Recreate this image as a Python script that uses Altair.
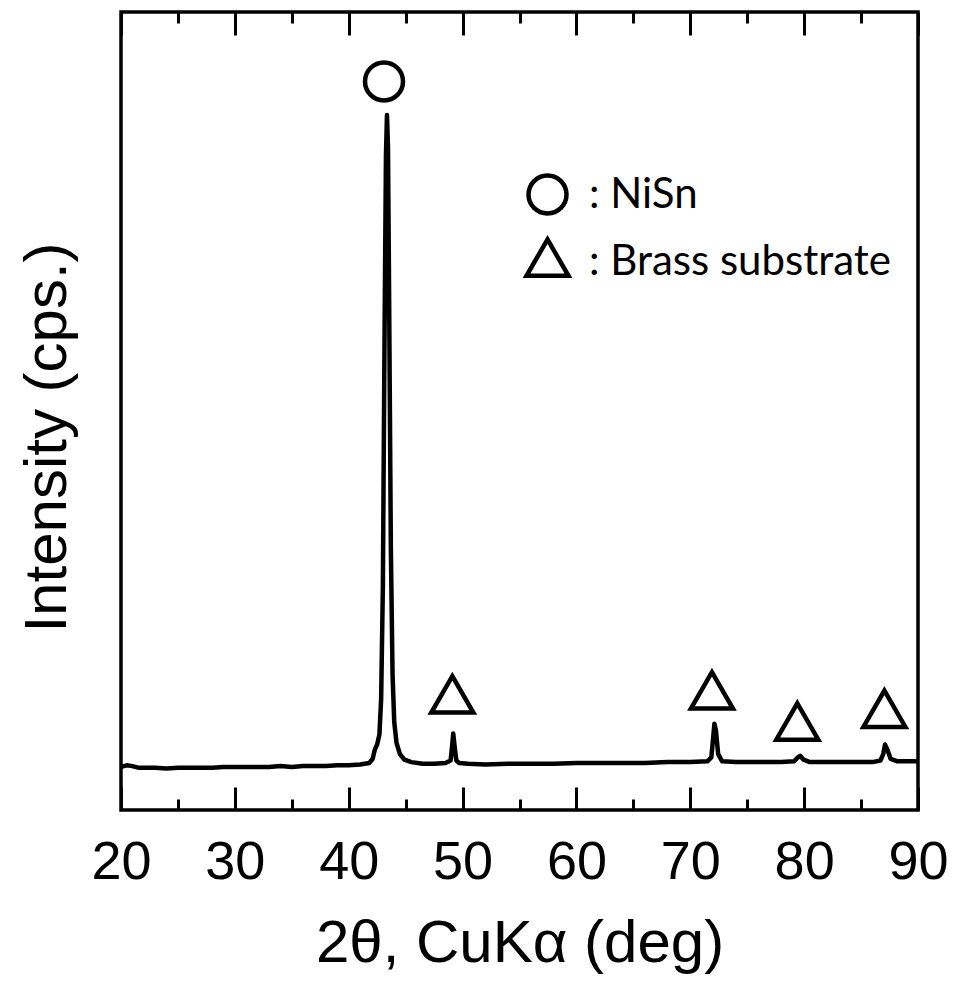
import altair as alt
import pandas as pd

# XRD pattern (2theta in degrees, intensity in arbitrary cps units)
two_theta = [20.0, 20.5, 21.0, 21.5, 22.0, 23.0, 24.0, 25.0, 26.0, 27.0, 28.0, 29.0, 30.0,
             31.0, 32.0, 33.0, 34.0, 35.0, 36.0, 37.0, 38.0, 39.0, 40.0, 41.0, 41.8,
             42.1, 42.3, 42.5, 42.7, 42.85, 43.0, 43.15, 43.27, 43.36, 43.45, 43.55,
             43.7, 43.85, 44.0, 44.2, 44.5, 44.9, 45.5, 46.5, 47.5, 48.5, 48.95, 49.08,
             49.18, 49.3, 49.45, 49.7, 50.5, 52.0, 54.0, 56.0, 58.0, 60.0, 62.0, 64.0,
             66.0, 68.0, 70.0, 71.5, 71.85, 72.02, 72.12, 72.25, 72.45, 72.8, 74.0, 76.0,
             78.0, 79.1, 79.45, 79.65, 79.95, 80.5, 82.0, 84.0, 86.0, 86.7, 86.95, 87.1,
             87.3, 87.6, 88.2, 89.0, 90.0]
intensity = [54, 56, 55, 53, 53, 53, 52, 53, 53, 53, 53, 54, 54,
             54, 54, 54, 55, 54, 55, 55, 55, 56, 56, 57, 59,
             64, 76, 82, 95, 140, 280, 600, 820, 871, 830, 640,
             330, 170, 110, 84, 70, 63, 60, 58, 58, 59, 62, 80,
             96, 80, 62, 59, 58, 57, 58, 58, 58, 59, 59, 59,
             59, 60, 60, 61, 66, 92, 108, 100, 70, 61, 60, 60,
             60, 61, 66, 68, 63, 60, 60, 60, 60, 62, 70, 82,
             76, 64, 61, 61, 61]

# Peak markers
phases = ["NiSn", "Brass substrate"]
marker_x = [43.1, 49.1, 71.9, 79.4, 87.05]
marker_y = [913, 140, 145, 106, 122]
marker_phase = ["NiSn", "Brass substrate", "Brass substrate", "Brass substrate", "Brass substrate"]

major_ticks = [20, 30, 40, 50, 60, 70, 80, 90]
minor_ticks = [25, 35, 45, 55, 65, 75, 85]

TRI = "M0,-1.05L1,0.68L-1,0.68Z"

df = pd.DataFrame({"t": two_theta, "i": intensity})
mk = pd.DataFrame({"t": marker_x, "i": marker_y, "phase": marker_phase})

xscale = alt.Scale(domain=[20, 90], nice=False, zero=False)
yscale = alt.Scale(domain=[0, 1000], nice=False, zero=True)

y_axis = alt.Axis(
    orient="left", ticks=False, labels=False, domain=False, grid=False,
    title="Intensity (cps.)", titleFont="Liberation Sans", titleFontSize=60,
    titleFontWeight="normal", titleColor="black", titleBaseline="alphabetic",
    titleX=-56, titleY=425, titleAngle=270)


def y_enc():
    return alt.Y("i:Q", scale=yscale, axis=y_axis)


line = alt.Chart(df).mark_line(color="black", strokeWidth=4.5, strokeJoin="round").encode(
    x=alt.X("t:Q", scale=xscale, axis=alt.Axis(
        orient="bottom", values=major_ticks, format="d", ticks=False, tickSize=0,
        domain=False, grid=False, labelPadding=25, labelFont="Liberation Sans",
        labelFontSize=54, labelColor="black", labelFlush=False, labelOverlap=False,
        labelBound=False, title="2θ, CuKα (deg)",
        titleFont="Liberation Sans", titleFontSize=60, titleFontWeight="normal",
        titleColor="black", titleBaseline="alphabetic", titleY=151)),
    y=y_enc(),
)


def tick_layer(orient, values, size):
    return alt.Chart(df).mark_line(opacity=0).encode(
        x=alt.X("t:Q", scale=xscale, axis=alt.Axis(
            orient=orient, values=values, labels=False, domain=False, grid=False,
            ticks=True, tickSize=size, tickWidth=3, tickColor="black",
            offset=-size, title=None)),
        y=y_enc(),
    )


legend = alt.Legend(
    title=None, orient="none", legendX=403, legendY=161, padding=0,
    labelFont="Lato", labelFontSize=42, labelColor="black", labelLimit=0,
    labelExpr="': ' + datum.label", symbolStrokeWidth=4.5,
    symbolStrokeColor="black", rowPadding=7, labelOffset=18,
)

markers = alt.Chart(mk).mark_point(filled=False, color="black", strokeWidth=4.5, opacity=1).encode(
    x=alt.X("t:Q", scale=xscale, axis=None),
    y=y_enc(),
    shape=alt.Shape("phase:N", scale=alt.Scale(domain=phases, range=["circle", TRI]), legend=legend),
    size=alt.Size("phase:N", scale=alt.Scale(type="ordinal", domain=phases, range=[1444, 1764]), legend=legend),
)

chart = alt.layer(
    line,
    tick_layer("bottom", major_ticks, 23),
    tick_layer("bottom", minor_ticks, 11),
    tick_layer("top", major_ticks, 23),
    tick_layer("top", minor_ticks, 11),
    markers,
).resolve_axis(x="independent").properties(
    width=797, height=798,
    autosize=alt.AutoSizeParams(type="none"),
    padding={"left": 113, "top": 4, "right": 30, "bottom": 166},
    background="white",
).configure_view(stroke="black", strokeWidth=3.5)

chart.save("out.html", embed_options={"renderer": "svg", "actions": False})
